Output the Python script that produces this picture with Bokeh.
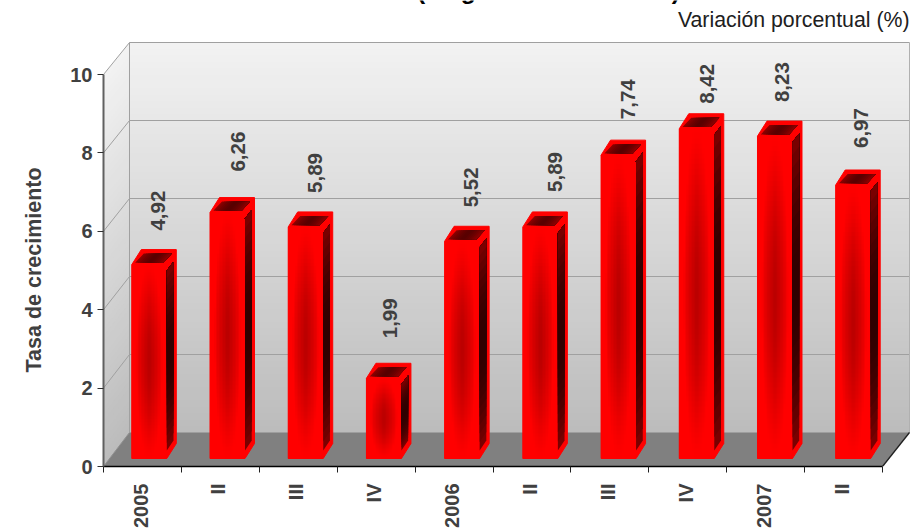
import numpy as np
from math import pi, sqrt
from bokeh.embed import file_html
from bokeh.resources import INLINE
from bokeh.plotting import figure
from bokeh.models import FixedTicker, Title
from bokeh.core.properties import value

# ---- data
CATEGORIES = ["2005", "II", "III", "IV", "2006", "II", "III", "IV", "2007", "II"]
VALUES = [4.92, 6.26, 5.89, 1.99, 5.52, 5.89, 7.74, 8.42, 8.23, 6.97]
Y_TICKS = [0, 2, 4, 6, 8, 10]
VALUE_TEXT = ["4,92", "6,26", "5,89", "1,99", "5,52", "5,89", "7,74", "8,42", "8,23", "6,97"]
TITLE_TEXT = "(Original del trimestre)"
SUBTITLE_TEXT = "Variación porcentual (%)"
Y_TITLE = "Tasa de crecimiento"

# ---- layout: pixel scale of the axes
PX_X, PX_Y = 77.9, 39.2
FRAME_L, FRAME_B = 103, 466
W, H = 918, 531
def dx(px): return px / PX_X
def dy(px): return px / PX_Y
def X(px): return (px - FRAME_L) / PX_X
def Y(py): return (FRAME_B - py) / PX_Y

# label placement tweaks (px): horizontal offset from the bar, extra gap above the bar
LABEL_X = [26, 28, 27, 24, 26, 32, 27, 28, 25, 25]
LABEL_GAP = [19, 26, 19, 25, 19, 20, 21, 10, 19, 22]

FONT = "Liberation Sans"
TXT = "#404040"

p = figure(width=W, height=H, output_backend="svg", toolbar_location=None,
           x_range=(0, X(W)), y_range=(0, Y(0)),
           min_border_left=FRAME_L, min_border_right=0, min_border_top=0,
           min_border_bottom=H - FRAME_B, outline_line_color=None,
           background_fill_color="white", border_fill_color="white",
           margin=(0, 0, 0, 0))
p.grid.visible = False

# ---- walls
WALL_BACK_L, WALL_BACK_R = X(129), X(909)
WALL_T, WALL_B = Y(42), Y(432)
SIDE_L_T, SIDE_L_B = Y(74), Y(466)
N = 60
top_rgb = np.array([0xf3, 0xf3, 0xf3])
bot_rgb = np.array([0xbc, 0xbc, 0xbc])
def gray(t):
    c = (top_rgb + (bot_rgb - top_rgb) * t).astype(int)
    return "#%02x%02x%02x" % tuple(c)
xs, ys, cs = [], [], []
for k in range(N):
    t = k / N
    yb = WALL_T + (WALL_B - WALL_T) * t
    xs.append([WALL_BACK_L, WALL_BACK_R, WALL_BACK_R, WALL_BACK_L])
    ys.append([yb, yb, WALL_B, WALL_B])
    cs.append(gray((k + .5) / N))
    yl = SIDE_L_T + (SIDE_L_B - SIDE_L_T) * t
    xs.append([0, WALL_BACK_L, WALL_BACK_L, 0])
    ys.append([yl, yb, WALL_B, SIDE_L_B])
    cs.append(gray((k + .5) / N))
p.patches(xs, ys, fill_color=cs, line_color=None)

# floor
p.patch([0, 10, WALL_BACK_R, WALL_BACK_L], [0, 0, WALL_B, WALL_B], fill_color="#808080", line_color=None)

# grid lines on walls
GRID = "#a0a0a0"
for v in Y_TICKS[1:]:
    yb = WALL_B + (WALL_T - WALL_B) * v / 10
    p.line([0, WALL_BACK_L, WALL_BACK_R], [v, yb, yb], line_color=GRID, line_width=1)
p.line([WALL_BACK_L, WALL_BACK_L], [WALL_B, WALL_T], line_color=GRID, line_width=1)
p.line([WALL_BACK_R, WALL_BACK_R], [WALL_B, WALL_T], line_color="#b0b0b0", line_width=1)
p.line([10, WALL_BACK_R], [0, WALL_B], line_color="#202020", line_width=1.3)
p.line([0, WALL_BACK_L], [0, WALL_B], line_color="#909090", line_width=1)

# ---- bars
BAR_START, BAR_STEP = X(131.3), 1.004
BAR_W = dx(35)
BASE = Y(458)
DEPTH_X, DEPTH_Y = dx(9.5), dy(15)
BAR_SCALE = 0.99

out_x, out_y, dark_x, dark_y, dark_c = [], [], [], [], []
imgs, img_x, img_y, img_dw, img_dh = [], [], [], [], []
label_x, label_y = [], []
for i, v in enumerate(VALUES):
    l = BAR_START + i * BAR_STEP
    r = l + BAR_W
    top = BASE + v * BAR_SCALE + dy(3)
    out_x.append([l, r, r + DEPTH_X, r + DEPTH_X, l + DEPTH_X, l])
    out_y.append([BASE, BASE, BASE + DEPTH_Y, top + DEPTH_Y, top + DEPTH_Y, top])

    # dark side face, banded vertically
    sx0, sx1 = r, r + dx(6.7)
    y0f, y1f = BASE + dy(8), top - dy(6)
    y0b, y1b = BASE + dy(18), top + dy(2.7)
    nb = 24
    for k in range(nb):
        t = k / nb
        w = abs(2 * (k + .5) / nb - 1)
        shade = int(0x80 - 0x50 * (1 - w * w))
        dark_x.append([sx0, sx1, sx1, sx0])
        dark_y.append([y0f + (y1f - y0f) * t, y0b + (y1b - y0b) * t, y1b, y1f])
        dark_c.append("#%02x0000" % shade)

    # dark top face, banded across
    fy, by = top + dy(1.7), top + dy(11)
    nt = 12
    for k in range(nt):
        a = k / nt
        u = abs(2 * (k + .5) / nt - 1)
        shade = int(0x58 + 0x38 * u ** 1.5)
        fl, fr = l + dx(3.3), l + dx(31.7)
        bl, br = l + dx(12), l + dx(40)
        dark_x.append([fl + (fr - fl) * a, fr, br, bl + (br - bl) * a])
        dark_y.append([fy, fy, by, by])
        dark_c.append("#%02x0000" % shade)

    # front face shading
    gh, gw = 64, 24
    yy, xx = np.mgrid[0:gh, 0:gw]
    u = np.abs(2 * (xx + .5) / gw - 1)
    w = np.abs(2 * (yy + .5) / gh - 1)
    lim = 0.72 * np.sqrt(np.clip(1 - w * w, 0, 1)) + 0.01
    f = np.clip(1 - u / lim, 0, 1) ** 0.7 * (1 - w * w) ** 1.5
    red = (255 - 70 * f).astype(np.uint32)
    imgs.append(red | (255 << 24))
    img_x.append(l); img_y.append(BASE); img_dw.append(BAR_W); img_dh.append(top - BASE)

    label_x.append(l + dx(LABEL_X[i]))
    label_y.append(top + DEPTH_Y + dy(LABEL_GAP[i]))

p.patches(out_x, out_y, fill_color="#ff0000", line_color="#ff0000", line_width=1, line_join="round")
p.image_rgba(image=imgs, x=img_x, y=img_y, dw=img_dw, dh=img_dh)
p.patches(dark_x, dark_y, fill_color=dark_c, line_color=None)

p.text(label_x, label_y, text=VALUE_TEXT, angle=pi / 2, text_align="left", text_baseline="middle",
       text_font=value(FONT), text_font_style="bold", text_font_size="20.5px", text_color=TXT)

# titles
p.text([X(548)], [Y(0)], text=[TITLE_TEXT], text_align="center", text_baseline="alphabetic", y_offset=-10,
       text_font=value(FONT), text_font_style="bold", text_font_size="24.5px", text_color="#000000")
p.text([X(909)], [Y(19)], text=[SUBTITLE_TEXT], text_align="right", text_baseline="alphabetic",
       text_font=value(FONT), text_font_size="21.3px", text_color="#202020")

# ---- axes
ya = p.yaxis[0]
ya.ticker = FixedTicker(ticks=Y_TICKS)
ya.bounds = (0, 10)
ya.axis_line_color = "#606060"
ya.axis_line_width = 2
ya.major_tick_line_color = "#303030"
ya.major_tick_out = 6
ya.major_tick_in = 0
ya.minor_tick_line_color = None
ya.major_label_standoff = 5
ya.major_label_text_font = FONT
ya.major_label_text_font_style = "bold"
ya.major_label_text_font_size = "20px"
ya.major_label_text_color = TXT

p.add_layout(Title(text=Y_TITLE, align="left", offset=94, standoff=40, vertical_align="top",
                   text_font=FONT, text_font_style="bold", text_font_size="21.5px",
                   text_color=TXT), "left")

CENTER = 0.475
xa = p.xaxis[0]
label_ticks = [k + CENTER for k in range(len(CATEGORIES))]
xa.ticker = FixedTicker(ticks=label_ticks, minor_ticks=list(range(len(CATEGORIES) + 1)))
xa.major_label_overrides = {t: c for t, c in zip(label_ticks, CATEGORIES)}
xa.bounds = (0, 10)
xa.axis_line_color = "#000000"
xa.axis_line_width = 1.5
xa.major_tick_line_color = None
xa.major_tick_out = 6
xa.major_tick_in = 0
xa.minor_tick_line_color = "#202020"
xa.minor_tick_out = 6
xa.minor_tick_in = 0
xa.major_label_orientation = pi / 2
xa.major_label_standoff = 11
xa.major_label_text_font = FONT
xa.major_label_text_font_style = "bold"
xa.major_label_text_font_size = "20px"
xa.major_label_text_color = TXT

open("out.html", "w").write(file_html(p, INLINE))
